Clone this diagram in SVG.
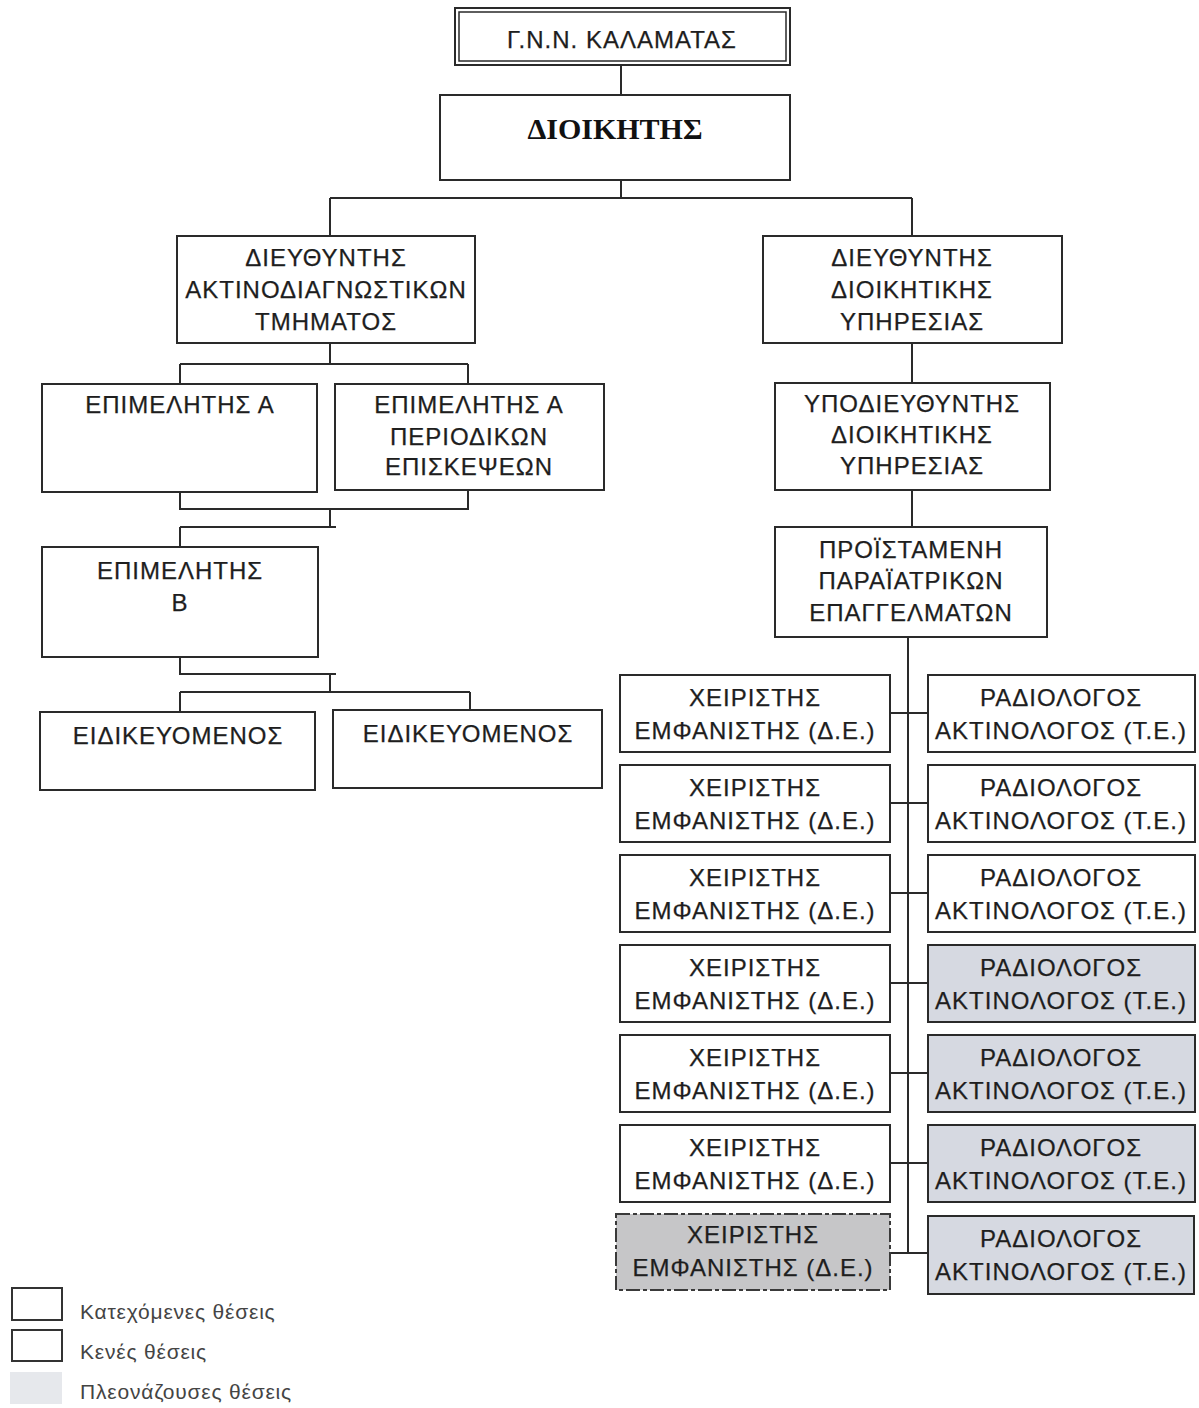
<svg xmlns="http://www.w3.org/2000/svg" width="1199" height="1408" viewBox="0 0 1199 1408">
<style>
.bx{fill:#ffffff;stroke:#2a2a2a;stroke-width:2}
.sh{fill:#d6d9e1;stroke:#2a2a2a;stroke-width:2}
.sh2{fill:#c6c6c8;stroke:#3a3a3a;stroke-width:2;stroke-dasharray:14 3 4 3}
.t{font-family:"Liberation Sans",Arial,sans-serif;font-size:24px;letter-spacing:1px;fill:#1e1e1e;stroke:#1e1e1e;stroke-width:0.25;text-anchor:middle}
.tb{font-family:"Liberation Serif","Times New Roman",serif;font-size:30px;font-weight:bold;fill:#111;text-anchor:middle}
.ln{fill:none;stroke:#2a2a2a;stroke-width:2}
.lg{font-family:"Liberation Sans",Arial,sans-serif;font-size:21px;letter-spacing:0.8px;fill:#444}
</style>
<rect width="1199" height="1408" fill="#ffffff"/>
<g id="connectors">
<path class="ln" d="M621 65V95M621 180V198M330 198H912M330 198V236M912 198V236"/>
<path class="ln" d="M330 343V364M180 364H468M180 364V384M468 364V384"/>
<path class="ln" d="M180 492V509H468V490M330 509V527M180 527H336M180 527V547"/>
<path class="ln" d="M180 657V674H336M330 674V692M180 692H470M180 692V712M470 692V710"/>
<path class="ln" d="M912 343V383M912 490V527M908 637V1253"/>
<path class="ln" d="M890 713H928M890 803H928M890 893H928M890 983H928M890 1073H928M890 1163H928M890 1253H928"/>
</g>
<g id="n-gnn">
<rect class="bx" x="455" y="8" width="335" height="57"/>
<rect x="459" y="12" width="327" height="49" fill="none" stroke="#2a2a2a" stroke-width="1.5"/>
<text class="t" x="622" y="48">Γ.Ν.Ν. ΚΑΛΑΜΑΤΑΣ</text>
</g>
<g id="n-dioikitis">
<rect class="bx" x="440" y="95" width="350" height="85" stroke-width="2.5"/>
<text class="tb" x="615" y="139">ΔΙΟΙΚΗΤΗΣ</text>
</g>
<g id="n-dir-aktino">
<rect class="bx" x="177" y="236" width="298" height="107"/>
<text class="t" x="326" y="266">ΔΙΕΥΘΥΝΤΗΣ</text>
<text class="t" x="326" y="298">ΑΚΤΙΝΟΔΙΑΓΝΩΣΤΙΚΩΝ</text>
<text class="t" x="326" y="330">ΤΜΗΜΑΤΟΣ</text>
</g>
<g id="n-dir-dioik">
<rect class="bx" x="763" y="236" width="299" height="107"/>
<text class="t" x="912" y="266">ΔΙΕΥΘΥΝΤΗΣ</text>
<text class="t" x="912" y="298">ΔΙΟΙΚΗΤΙΚΗΣ</text>
<text class="t" x="912" y="330">ΥΠΗΡΕΣΙΑΣ</text>
</g>
<g id="n-epim-a">
<rect class="bx" x="42" y="384" width="275" height="108"/>
<text class="t" x="180" y="413">ΕΠΙΜΕΛΗΤΗΣ Α</text>
</g>
<g id="n-epim-a-per">
<rect class="bx" x="335" y="384" width="269" height="106"/>
<text class="t" x="469" y="413">ΕΠΙΜΕΛΗΤΗΣ Α</text>
<text class="t" x="469" y="445">ΠΕΡΙΟΔΙΚΩΝ</text>
<text class="t" x="469" y="475">ΕΠΙΣΚΕΨΕΩΝ</text>
</g>
<g id="n-epim-b">
<rect class="bx" x="42" y="547" width="276" height="110"/>
<text class="t" x="180" y="579">ΕΠΙΜΕΛΗΤΗΣ</text>
<text class="t" x="180" y="611">Β</text>
</g>
<g id="n-eid-1">
<rect class="bx" x="40" y="712" width="275" height="78"/>
<text class="t" x="178" y="744">ΕΙΔΙΚΕΥΟΜΕΝΟΣ</text>
</g>
<g id="n-eid-2">
<rect class="bx" x="333" y="710" width="269" height="78"/>
<text class="t" x="468" y="742">ΕΙΔΙΚΕΥΟΜΕΝΟΣ</text>
</g>
<g id="n-ypodieyth">
<rect class="bx" x="775" y="383" width="275" height="107"/>
<text class="t" x="912" y="412">ΥΠΟΔΙΕΥΘΥΝΤΗΣ</text>
<text class="t" x="912" y="443">ΔΙΟΙΚΗΤΙΚΗΣ</text>
<text class="t" x="912" y="474">ΥΠΗΡΕΣΙΑΣ</text>
</g>
<g id="n-proist">
<rect class="bx" x="775" y="527" width="272" height="110"/>
<text class="t" x="911" y="558">ΠΡΟΪΣΤΑΜΕΝΗ</text>
<text class="t" x="911" y="589">ΠΑΡΑΪΑΤΡΙΚΩΝ</text>
<text class="t" x="911" y="621">ΕΠΑΓΓΕΛΜΑΤΩΝ</text>
</g>
<g id="n-xeir-1"><rect class="bx" x="620" y="675" width="270" height="77"/><text class="t" x="755" y="706">ΧΕΙΡΙΣΤΗΣ</text><text class="t" x="755" y="739">ΕΜΦΑΝΙΣΤΗΣ (Δ.Ε.)</text></g>
<g id="n-rad-1"><rect class="bx" x="928" y="675" width="267" height="77"/><text class="t" x="1061" y="706">ΡΑΔΙΟΛΟΓΟΣ</text><text class="t" x="1061" y="739">ΑΚΤΙΝΟΛΟΓΟΣ (Τ.Ε.)</text></g>
<g id="n-xeir-2"><rect class="bx" x="620" y="765" width="270" height="77"/><text class="t" x="755" y="796">ΧΕΙΡΙΣΤΗΣ</text><text class="t" x="755" y="829">ΕΜΦΑΝΙΣΤΗΣ (Δ.Ε.)</text></g>
<g id="n-rad-2"><rect class="bx" x="928" y="765" width="267" height="77"/><text class="t" x="1061" y="796">ΡΑΔΙΟΛΟΓΟΣ</text><text class="t" x="1061" y="829">ΑΚΤΙΝΟΛΟΓΟΣ (Τ.Ε.)</text></g>
<g id="n-xeir-3"><rect class="bx" x="620" y="855" width="270" height="77"/><text class="t" x="755" y="886">ΧΕΙΡΙΣΤΗΣ</text><text class="t" x="755" y="919">ΕΜΦΑΝΙΣΤΗΣ (Δ.Ε.)</text></g>
<g id="n-rad-3"><rect class="bx" x="928" y="855" width="267" height="77"/><text class="t" x="1061" y="886">ΡΑΔΙΟΛΟΓΟΣ</text><text class="t" x="1061" y="919">ΑΚΤΙΝΟΛΟΓΟΣ (Τ.Ε.)</text></g>
<g id="n-xeir-4"><rect class="bx" x="620" y="945" width="270" height="77"/><text class="t" x="755" y="976">ΧΕΙΡΙΣΤΗΣ</text><text class="t" x="755" y="1009">ΕΜΦΑΝΙΣΤΗΣ (Δ.Ε.)</text></g>
<g id="n-rad-4"><rect class="sh" x="928" y="945" width="267" height="77"/><text class="t" x="1061" y="976">ΡΑΔΙΟΛΟΓΟΣ</text><text class="t" x="1061" y="1009">ΑΚΤΙΝΟΛΟΓΟΣ (Τ.Ε.)</text></g>
<g id="n-xeir-5"><rect class="bx" x="620" y="1035" width="270" height="77"/><text class="t" x="755" y="1066">ΧΕΙΡΙΣΤΗΣ</text><text class="t" x="755" y="1099">ΕΜΦΑΝΙΣΤΗΣ (Δ.Ε.)</text></g>
<g id="n-rad-5"><rect class="sh" x="928" y="1035" width="267" height="77"/><text class="t" x="1061" y="1066">ΡΑΔΙΟΛΟΓΟΣ</text><text class="t" x="1061" y="1099">ΑΚΤΙΝΟΛΟΓΟΣ (Τ.Ε.)</text></g>
<g id="n-xeir-6"><rect class="bx" x="620" y="1125" width="270" height="77"/><text class="t" x="755" y="1156">ΧΕΙΡΙΣΤΗΣ</text><text class="t" x="755" y="1189">ΕΜΦΑΝΙΣΤΗΣ (Δ.Ε.)</text></g>
<g id="n-rad-6"><rect class="sh" x="928" y="1125" width="267" height="77"/><text class="t" x="1061" y="1156">ΡΑΔΙΟΛΟΓΟΣ</text><text class="t" x="1061" y="1189">ΑΚΤΙΝΟΛΟΓΟΣ (Τ.Ε.)</text></g>
<g id="n-xeir-7"><rect class="sh2" x="616" y="1214" width="274" height="76"/><text class="t" x="753" y="1243">ΧΕΙΡΙΣΤΗΣ</text><text class="t" x="753" y="1276">ΕΜΦΑΝΙΣΤΗΣ (Δ.Ε.)</text></g>
<g id="n-rad-7"><rect class="sh" x="928" y="1216" width="266" height="78"/><text class="t" x="1061" y="1247">ΡΑΔΙΟΛΟΓΟΣ</text><text class="t" x="1061" y="1280">ΑΚΤΙΝΟΛΟΓΟΣ (Τ.Ε.)</text></g>
<g id="legend">
<rect x="12" y="1288" width="50" height="32" fill="#fff" stroke="#333" stroke-width="2"/>
<text class="lg" x="80" y="1319">Κατεχόμενες θέσεις</text>
<rect x="12" y="1330" width="50" height="31" fill="#fff" stroke="#333" stroke-width="2"/>
<text class="lg" x="80" y="1359">Κενές θέσεις</text>
<rect x="10" y="1372" width="52" height="32" fill="#e6e8ec"/>
<text class="lg" x="80" y="1399">Πλεονάζουσες θέσεις</text>
</g>
</svg>
